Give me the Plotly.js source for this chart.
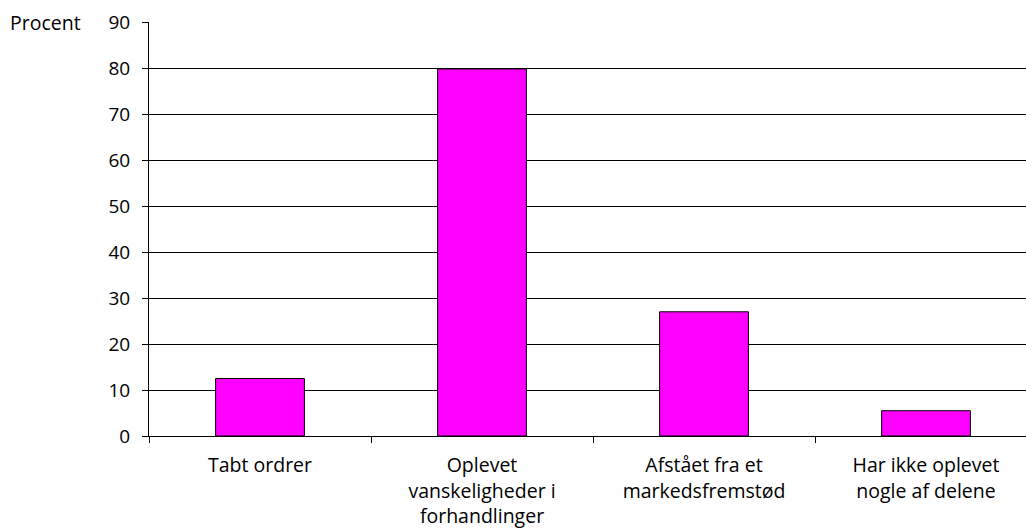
<!DOCTYPE html>
<html>
<head>
<meta charset="utf-8">
<script src="https://cdn.plot.ly/plotly-3.0.1.min.js"></script>
<style>html,body{margin:0;padding:0;overflow:hidden;background:#fff;}</style>
</head>
<body>
<div id="chart"></div>
<script>
const categories = [
  "Tabt ordrer",
  "Oplevet<br>vanskeligheder i<br>forhandlinger",
  "Afstået fra et<br>markedsfremstød",
  "Har ikke oplevet<br>nogle af delene"
];
const values = [12.5, 79.8, 27, 5.5];
const yTicks = [0, 10, 20, 30, 40, 50, 60, 70, 80, 90];

const FONT = "Open Sans, Noto Sans, sans-serif";

Plotly.newPlot("chart", [{
  type: "bar",
  x: categories,
  y: values,
  width: 0.4,
  marker: {color: "#FF00FF", line: {color: "#000000", width: 1}},
  hoverinfo: "none"
}], {
  width: 1038,
  height: 530,
  margin: {l: 149, r: 1, t: 22, b: 94},
  paper_bgcolor: "#ffffff",
  plot_bgcolor: "#ffffff",
  showlegend: false,
  font: {family: FONT, size: 19, color: "#000000"},
  xaxis: {
    type: "category",
    showline: true, linecolor: "#000000", linewidth: 1,
    ticks: "outside", tickson: "boundaries", ticklen: 6, tickcolor: "#000000",
    ticklabelstandoff: 12,
    showgrid: false, zeroline: false,
    tickfont: {family: FONT, size: 19.5, color: "#000000"}
  },
  yaxis: {
    range: [0, 90],
    tickvals: yTicks,
    showline: true, linecolor: "#000000", linewidth: 1,
    ticks: "outside", ticklen: 6, tickcolor: "#000000",
    ticklabelstandoff: 8,
    showgrid: true, gridcolor: "#000000", gridwidth: 1,
    zeroline: false,
    tickfont: {family: FONT, size: 19, color: "#000000"}
  },
  annotations: [{
    text: "Procent", xref: "paper", yref: "paper", x: -0.0743, y: 1,
    xanchor: "right", yanchor: "middle", showarrow: false,
    font: {family: FONT, size: 19.5, color: "#000000"}
  }]
}, {staticPlot: true});
</script>
</body>
</html>
